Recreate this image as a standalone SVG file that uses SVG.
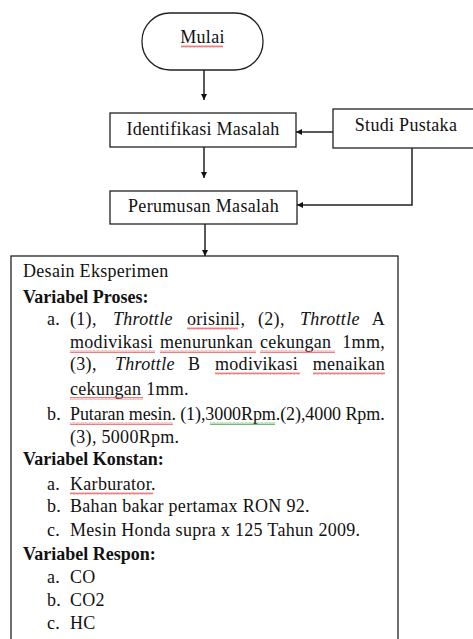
<svg xmlns="http://www.w3.org/2000/svg" width="473" height="639" viewBox="0 0 473 639">
<style>
.box{fill:#fff;stroke:#222;stroke-width:1.3}
.t{font-family:"Liberation Serif","Times New Roman",serif;font-size:18px;fill:#111;letter-spacing:0.3px}
.c{text-anchor:middle}
.e{text-anchor:end}
.b{font-weight:bold;letter-spacing:0}
.i{font-style:italic}
.con{fill:none;stroke:#222;stroke-width:1.5}
.wr{fill:url(#wavyR)}
.wg{fill:url(#wavyG)}
</style>
<defs>
<marker id="ah" viewBox="0 0 10 10" refX="10" refY="5" markerWidth="6" markerHeight="6" markerUnits="userSpaceOnUse" orient="auto">
<path d="M0,0 L10,5 L0,10 Z" fill="#111"/>
</marker>
<pattern id="wavyR" x="0" y="0" width="4" height="3" patternUnits="userSpaceOnUse">
<path d="M0,2.5 L1,0.5 L2,2.5 L3,0.5 L4,2.5" fill="none" stroke="#e84848" stroke-width="0.7"/>
</pattern>
<pattern id="wavyG" x="0" y="0" width="4" height="3" patternUnits="userSpaceOnUse">
<path d="M0,2.5 L1,0.5 L2,2.5 L3,0.5 L4,2.5" fill="none" stroke="#3a9a3a" stroke-width="0.7"/>
</pattern>
</defs>

<g id="connectors">
<path class="con" d="M204,70 V100" marker-end="url(#ah)"/>
<path class="con" d="M333,132 H296" marker-end="url(#ah)"/>
<path class="con" d="M204,147 V178" marker-end="url(#ah)"/>
<path class="con" d="M412,148 V205 H297" marker-end="url(#ah)"/>
<path class="con" d="M205,224 V256" marker-end="url(#ah)"/>
</g>

<g id="mulai">
<rect class="box" x="142" y="13" width="121" height="57" rx="28" ry="28"/>
<text class="t c" x="202.5" y="43">Mulai</text>
<rect class="wr" x="181" y="45" width="42" height="3"/>
</g>

<g id="identifikasi">
<rect class="box" x="110" y="113" width="186" height="34"/>
<text class="t c" x="203" y="135" textLength="153">Identifikasi Masalah</text>
</g>

<g id="studi">
<rect class="box" x="333" y="109" width="145" height="39"/>
<text class="t c" x="406" y="131">Studi Pustaka</text>
</g>

<g id="perumusan">
<rect class="box" x="110" y="191" width="187" height="33"/>
<text class="t c" x="203.5" y="212" textLength="151">Perumusan Masalah</text>
</g>

<g id="desain">
<rect class="box" x="11" y="256" width="387" height="400"/>
<text class="t" x="23" y="277">Desain Eksperimen</text>
<text class="t b" x="23" y="303">Variabel Proses:</text>

<text class="t" x="47" y="325">a.</text>
<text class="t" y="325"><tspan x="70">(1),</tspan><tspan x="113" class="i">Throttle</tspan><tspan x="187">orisinil,</tspan><tspan x="258">(2),</tspan><tspan x="300" class="i">Throttle</tspan></text>
<text class="t e" x="385" y="325">A</text>
<rect class="wr" x="187" y="327" width="51" height="3"/>

<text class="t" y="348"><tspan x="70">modivikasi</tspan><tspan x="160">menurunkan</tspan><tspan x="260">cekungan</tspan></text>
<text class="t e" x="385" y="348">1mm,</text>
<rect class="wr" x="70" y="350" width="85" height="3"/>
<rect class="wr" x="160" y="350" width="96" height="3"/>
<rect class="wr" x="260" y="350" width="75" height="3"/>

<text class="t" y="370"><tspan x="70">(3),</tspan><tspan x="115" class="i">Throttle</tspan><tspan x="188">B</tspan><tspan x="215">modivikasi</tspan></text>
<text class="t e" x="385" y="370">menaikan</text>
<rect class="wr" x="215" y="372" width="85" height="3"/>
<rect class="wr" x="313" y="372" width="72" height="3"/>

<text class="t" x="70" y="395">cekungan 1mm.</text>
<rect class="wr" x="70" y="397" width="73" height="3"/>

<text class="t" x="47" y="420">b.</text>
<text class="t" x="70" y="420" textLength="315">Putaran mesin. (1),3000Rpm.(2),4000 Rpm.</text>
<rect class="wr" x="70" y="422" width="103" height="3"/>
<rect class="wg" x="210" y="422" width="65" height="3"/>
<text class="t" x="70" y="443">(3), 5000Rpm.</text>

<text class="t b" x="23" y="465">Variabel Konstan:</text>
<text class="t" x="47" y="490">a.</text>
<text class="t" x="70" y="490">Karburator.</text>
<rect class="wr" x="70" y="492" width="83" height="3"/>
<text class="t" x="47" y="512">b.</text>
<text class="t" x="70" y="512">Bahan bakar pertamax RON 92.</text>
<text class="t" x="47" y="536">c.</text>
<text class="t" x="70" y="536">Mesin Honda supra x 125 Tahun 2009.</text>

<text class="t b" x="23" y="560">Variabel Respon:</text>
<text class="t" x="47" y="583">a.</text>
<text class="t" x="70" y="583">CO</text>
<text class="t" x="47" y="606">b.</text>
<text class="t" x="70" y="606">CO2</text>
<text class="t" x="47" y="629">c.</text>
<text class="t" x="70" y="629">HC</text>
</g>
</svg>
